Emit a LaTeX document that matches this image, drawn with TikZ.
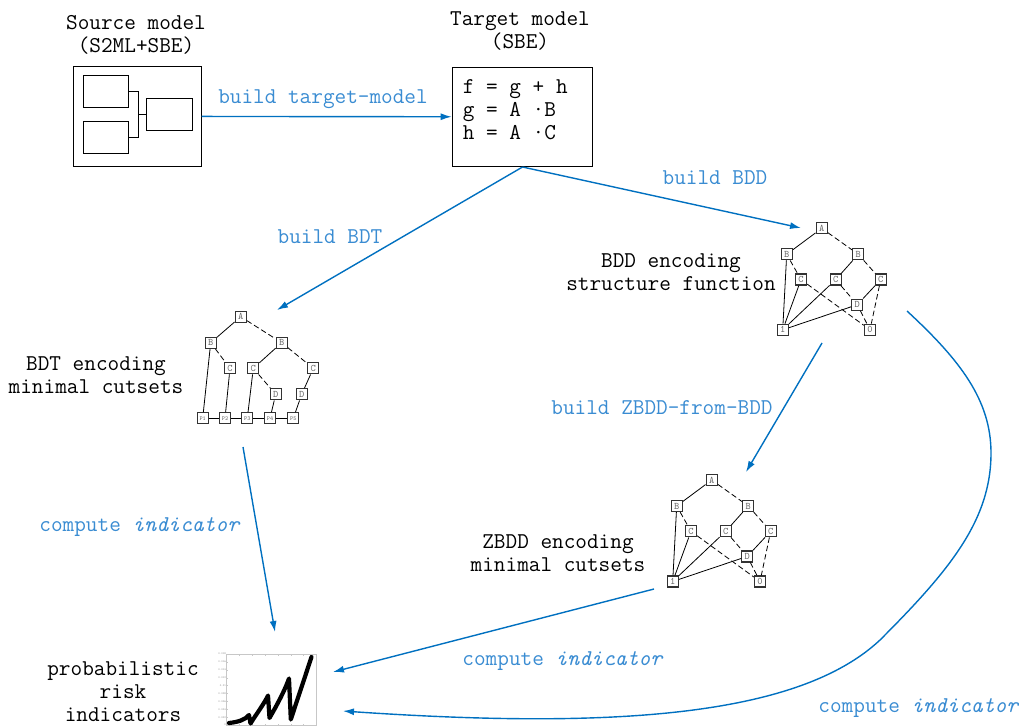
\documentclass[tikz,border=0pt]{standalone}
\usepackage{fontspec}
\setmainfont{Latin Modern Mono}
\usetikzlibrary{arrows.meta}

\definecolor{flowblue}{RGB}{0,112,192}
\definecolor{labelblue}{RGB}{58,140,210}

\tikzset{
  lbl/.style={font=\fontsize{22.6}{23}\selectfont, align=center, inner sep=0pt},
  steplbl/.style={lbl, text=labelblue},
  flow/.style={draw=flowblue, line width=1.4pt, -{Latex[length=11pt,width=7pt]}},
  ddnode/.style={draw=black!80, line width=1.3pt, fill=white, minimum size=11pt,
    inner sep=0pt, font=\fontsize{10}{10}\selectfont, text=black!60},
  pnode/.style={ddnode, font=\fontsize{6}{6}\selectfont},
  hi/.style={draw=black, line width=0.8pt},
  lo/.style={hi, dash pattern=on 5.5pt off 3pt},
  box/.style={draw=black, line width=1pt, inner sep=0pt},
  tick/.style={font=\fontsize{2.8}{2.8}\selectfont, text=black!45, inner sep=0.5pt, anchor=east}
}

% decision diagram over A,B,C,D with terminals 1 and 0; #1 prefix, (#2,#3) root
\newcommand\ddgraph[3]{%
  \begin{scope}[shift={(#2,#3)}]
    \node[ddnode] (#1A) at (0,0) {A};
    \node[ddnode] (#1Bl) at (-35,26) {B};
    \node[ddnode] (#1Br) at (36.6,26) {B};
    \node[ddnode] (#1Ca) at (-20.7,51.3) {C};
    \node[ddnode] (#1Cb) at (14,51.3) {C};
    \node[ddnode] (#1Cc) at (59,51.3) {C};
    \node[ddnode] (#1D) at (35.6,76.4) {D};
    \node[ddnode] (#1one) at (-39,101.5) {1};
    \node[ddnode] (#1zero) at (48.3,101.5) {0};
  \end{scope}
  \draw[hi] (#1A) -- (#1Bl);  \draw[lo] (#1A) -- (#1Br);
  \draw[hi] (#1Bl) -- (#1one); \draw[lo] (#1Bl) -- (#1Ca);
  \draw[hi] (#1Br) -- (#1Cb); \draw[lo] (#1Br) -- (#1Cc);
  \draw[hi] (#1Ca) -- (#1one); \draw[lo] (#1Ca) -- (#1zero);
  \draw[hi] (#1Cb) -- (#1one); \draw[lo] (#1Cb) -- (#1D);
  \draw[hi] (#1Cc) -- (#1D);  \draw[lo] (#1Cc) -- (#1zero);
  \draw[hi] (#1D) -- (#1one);  \draw[lo] (#1D) -- (#1zero);
}

\begin{document}
\begin{tikzpicture}[x=1pt,y=-1pt]
\useasboundingbox (0,0) rectangle (1019,726);

% ---- source model ----
\node[lbl] (srctitle) at (136,35) {Source model\\(S2ML+SBE)};
\node[box, minimum width=127.4, minimum height=99.7, anchor=north west] (src) at (73.3,66) {};
\node[box, minimum width=45.6, minimum height=31.7, anchor=north west] (srca) at (82.7,75) {};
\node[box, minimum width=45.6, minimum height=32, anchor=north west] (srcb) at (82.7,120.7) {};
\node[box, minimum width=45.7, minimum height=31.7, anchor=north west] (srcc) at (146,98.3) {};
\draw[line width=1pt] (srca.east) -- ++(9,0) coordinate (join) |- (srcb.east);
\draw[line width=1pt] (srcc.west) -- (srcc.west -| join);

% ---- target model ----
\node[lbl] (tgttitle) at (520,31) {Target model\\(SBE)};
\node[box, minimum width=140.6, minimum height=99.3, anchor=north west] (tgt) at (451.7,66.7) {};
\node[lbl, anchor=base west] (eqf) at (462.7,93.3) {f = g + h};
\node[lbl, anchor=base west] (eqg) at (462.7,116) {g = A ·B};
\node[lbl, anchor=base west] (eqh) at (462.7,139) {h = A ·C};

\draw[flow] (src) -- (tgt);
\node[steplbl] (l1) at (323,99) {build target-model};

% ---- BDD ----
\ddgraph{bdd}{821.7}{228.3}
\node[lbl] (bddtitle) at (671,272) {BDD encoding\\structure function};

% ---- ZBDD ----
\ddgraph{zb}{711.7}{480}
\node[lbl] (zbtitle) at (558,553) {ZBDD encoding\\minimal cutsets};

% ---- BDT ----
\node[ddnode] (tA) at (240.7,316.7) {A};
\node[ddnode] (tBl) at (210.7,342.7) {B};
\node[ddnode] (tBr) at (281.7,342.7) {B};
\node[ddnode] (tCa) at (230,368.3) {C};
\node[ddnode] (tCb) at (253.3,368.3) {C};
\node[ddnode] (tCc) at (313.3,368.3) {C};
\node[ddnode] (tDa) at (275.7,394.3) {D};
\node[ddnode] (tDb) at (301.7,394.3) {D};
\node[pnode] (tP1) at (202.7,418.3) {P1};
\node[pnode] (tP2) at (225,418.3) {P2};
\node[pnode] (tP3) at (247.3,418.3) {P3};
\node[pnode] (tP4) at (270,418.3) {P4};
\node[pnode] (tP5) at (293.3,418.3) {P5};
\draw[hi] (tA) -- (tBl);  \draw[lo] (tA) -- (tBr);
\draw[hi] (tBl) -- (tP1); \draw[lo] (tBl) -- (tCa);
\draw[hi] (tCa) -- (tP2);
\draw[hi] (tBr) -- (tCb); \draw[lo] (tBr) -- (tCc);
\draw[hi] (tCb) -- (tP3); \draw[lo] (tCb) -- (tDa);
\draw[hi] (tDa) -- (tP4);
\draw[hi] (tCc) -- (tDb);
\draw[hi] (tDb) -- (tP5);
\draw[hi] (tP1) -- (tP2); \draw[hi] (tP2) -- (tP3);
\draw[hi] (tP3) -- (tP4); \draw[hi] (tP4) -- (tP5);
\node[lbl] (bdttitle) at (96,375) {BDT encoding\\minimal cutsets};

% ---- indicators ----
\node[lbl] (indtitle) at (123,692) {probabilistic\\risk\\indicators};
\draw[black!22, line width=0.6pt] (226.7,654) rectangle (316,725);
\foreach \v [count=\i from 0] in {0.018,0.016,0.014,0.012,0.01,0.008,0.006,0.004,0.002,0}
  \node[tick] at (226.5,{654+\i*7.9}) {\v};
\foreach \i in {1,...,8}
  \draw[black!22, line width=0.3pt] (226.7,{654+\i*7.9}) -- ++(1.5,0);
\foreach \i in {1,...,6}
  \draw[black!22, line width=0.3pt] ({226.7+\i*12.8},725) -- ++(0,-1.5)
                                     ({226.7+\i*12.8},654) -- ++(0,1.5);
\draw[black, line width=4.2pt, line join=round, line cap=round]
  (229,723) .. controls (238,722) and (245,720) .. (249,715)
  -- (250.5,723.5) .. controls (257,713) and (264,704) .. (268,695.5)
  -- (269.5,718) .. controls (277,705) and (285,690) .. (289,678.5)
  -- (290.8,719.5) -- (311.5,657);

% ---- connectors ----
\coordinate (bdtin) at (277,310);
\coordinate (bddin) at (801,228);
\coordinate (bddout) at (822,343);
\coordinate (zbin) at (746,472);
\coordinate (bdtout) at (243,447);
\coordinate (indA) at (275,632);
\coordinate (zbout) at (654,589);
\coordinate (indB) at (333,672);
\coordinate (bddcurve) at (907,311);
\coordinate (indC) at (343,711);

\draw[flow] (tgt.south) -- (bdtin);
\node[steplbl] (l2) at (330,237) {build BDT};
\draw[flow] (tgt.south) -- (bddin);
\node[steplbl] (l3) at (715,178) {build BDD};
\draw[flow] (bddout) -- (zbin);
\node[steplbl] (l4) at (662,408) {build ZBDD-from-BDD};
\draw[flow] (bdtout) -- (indA);
\node[steplbl] (l5) at (140,527) {compute \textit{indicator}};
\draw[flow] (zbout) -- (indB);
\node[steplbl] (l6) at (563,661) {compute \textit{indicator}};
\draw[flow] (bddcurve) .. controls (960,360) and (991,400) .. (991,453)
  .. controls (991,520) and (950,570) .. (880,640)
  .. controls (800,715) and (620,730) .. (indC);
\node[steplbl] (l7) at (919,708) {compute \textit{indicator}};
\end{tikzpicture}
\end{document}
